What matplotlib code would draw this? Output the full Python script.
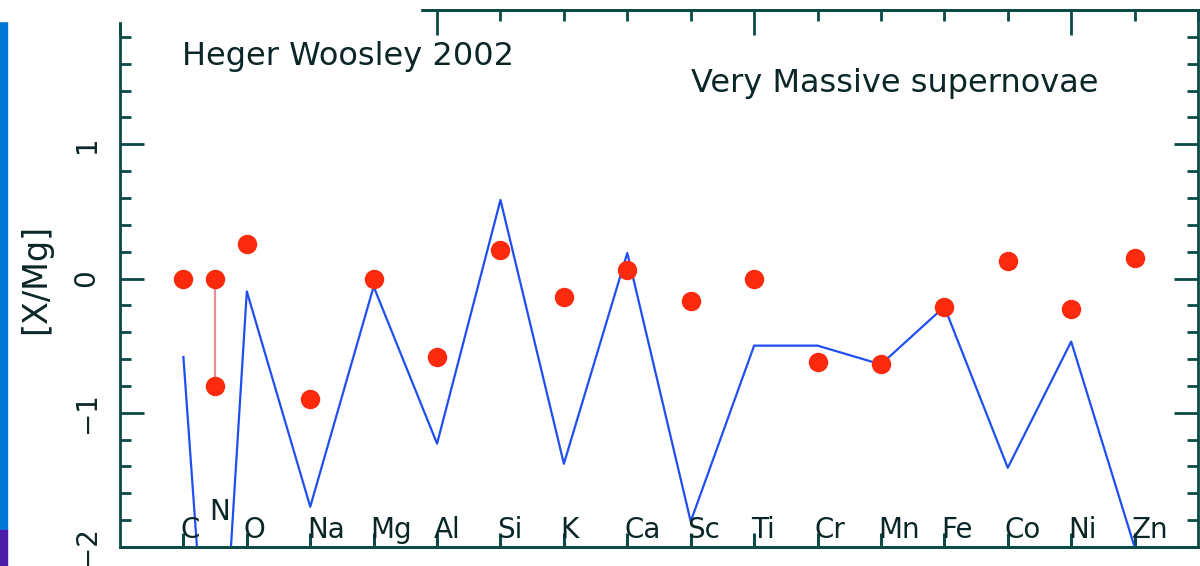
import matplotlib
matplotlib.use("Agg")
import matplotlib.pyplot as plt
from matplotlib.patches import Rectangle
from matplotlib.ticker import MultipleLocator

# element names and their positions along the x axis
elements = ['C', 'N', 'O', 'Na', 'Mg', 'Al', 'Si', 'K', 'Ca', 'Sc',
            'Ti', 'Cr', 'Mn', 'Fe', 'Co', 'Ni', 'Zn']
xpos = [1, 1.5, 2, 3, 4, 5, 6, 7, 8, 9, 10, 11, 12, 13, 14, 15, 16]

# observed [X/Mg] (red dots); N has an upper and a lower value
observed = [0.0, 0.0, 0.26, -0.90, 0.0, -0.585, 0.21, -0.14, 0.06, -0.17,
            0.0, -0.62, -0.64, -0.21, 0.13, -0.23, 0.15]
n_low = -0.80

# Heger & Woosley 2002 model yields (blue line)
model = [-0.585, -3.9, -0.096, -1.70, -0.06, -1.23, 0.585, -1.38, 0.19, -1.81,
         -0.50, -0.50, -0.64, -0.21, -1.41, -0.47, -2.0]

axis_col = '#0b4a47'
text_col = '#0a2626'
red = '#fb2a0c'
blue = '#1f4ff0'

plt.rcParams['font.family'] = ['DejaVu Sans']

fig = plt.figure(figsize=(12, 5.66), dpi=100)
ax = fig.add_axes([120 / 1200, 19 / 566, 1078 / 1200, 537 / 566])

ax.plot(xpos, model, color=blue, lw=1.6, zorder=2)
ax.plot([xpos[1], xpos[1]], [observed[1], n_low], color='#e89090', lw=1.6, zorder=3)
ax.plot(xpos, observed, 'o', color=red, ms=14, mec='none', zorder=4)
ax.plot([xpos[1]], [n_low], 'o', color=red, ms=14, mec='none', zorder=4)

ax.set_xlim(0, 17)
ax.set_ylim(-2, 2)

for sp in ax.spines.values():
    sp.set_color(axis_col)
    sp.set_linewidth(2)

ax.set_xticks([])

# top axis ticks
sec = ax.secondary_xaxis('top')
sec.xaxis.set_major_locator(MultipleLocator(5))
sec.xaxis.set_minor_locator(MultipleLocator(1))
sec.tick_params(which='major', direction='in', length=18, width=2, color=axis_col, labeltop=False)
sec.tick_params(which='minor', direction='in', length=8, width=2, color=axis_col)
sec.spines['top'].set_color(axis_col)
sec.spines['top'].set_linewidth(2)

# bottom: short inward ticks at every element, labels inside the frame
bot = ax.secondary_xaxis('bottom')
bot.set_xticks(range(1, 17))
bot.tick_params(which='major', direction='in', length=10, width=2.2,
                color=axis_col, labelbottom=False)
bot.spines['bottom'].set_color(axis_col)
bot.spines['bottom'].set_linewidth(2)
for name, x in zip(elements, xpos):
    if name == 'N':
        ax.text(x - 0.09, -1.80, name, fontsize=20, color=text_col,
                ha='left', va='baseline')
    else:
        ax.text(x - 0.05, -1.93, name, fontsize=20, color=text_col,
                ha='left', va='baseline')

# y axis
ax.yaxis.set_major_locator(MultipleLocator(1))
ax.yaxis.set_minor_locator(MultipleLocator(0.2))
ax.tick_params(axis='y', which='major', direction='in', length=17, width=2,
               color=axis_col, left=True, right=True, labelsize=20,
               labelcolor=text_col, pad=14)
ax.tick_params(axis='y', which='minor', direction='in', length=8, width=2,
               color=axis_col, left=True, right=True)
for lab in ax.get_yticklabels():
    lab.set_rotation(90)
    lab.set_va('center')

fig.text(36 / 1200, 1 - 279 / 566, '[X/Mg]', rotation=90, fontsize=24,
         color=text_col, ha='center', va='center')

ax.text(0.0575, 0.8976, 'Heger Woosley 2002', transform=ax.transAxes,
        fontsize=23, color=text_col, ha='left', va='baseline')
ax.text(0.5297, 0.847, 'Very Massive supernovae', transform=ax.transAxes,
        fontsize=23, color=text_col, ha='left', va='baseline')

# slide background bits: coloured strip on the left, white patch top-left
fig.patches.append(Rectangle((0, 36 / 566), 7 / 1200, 509 / 566,
                             transform=fig.transFigure, color='#0078d7', zorder=5))
fig.patches.append(Rectangle((0, 0), 7 / 1200, 36 / 566,
                             transform=fig.transFigure, color='#4a1ca8', zorder=5))
fig.patches.append(Rectangle((0, 545 / 566), 420 / 1200, 21 / 566,
                             transform=fig.transFigure, color='white', zorder=10))

fig.savefig('out.png', dpi=100)
